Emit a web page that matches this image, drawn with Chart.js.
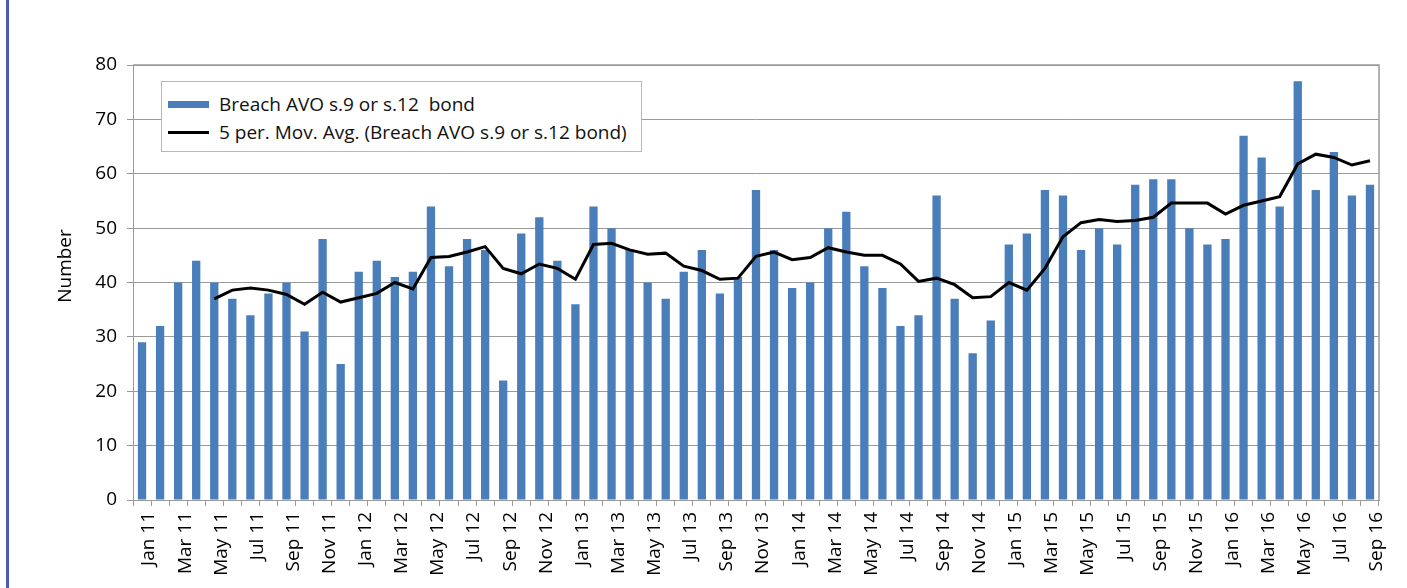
<!DOCTYPE html>
<html>
<head>
<meta charset="utf-8">
<script src="https://cdn.jsdelivr.net/npm/chart.js@4.4.1/dist/chart.umd.min.js"></script>
<style>
  html, body { margin: 0; padding: 0; background: #fff; }
  #wrap { position: relative; width: 1407px; height: 588px; overflow: hidden; }
  #frame { position: absolute; left: 6px; top: 0; width: 3px; height: 588px; background: #4a5cb4; }
  canvas { position: absolute; left: 0; top: 0; }
  #legend { position: absolute; left: 161px; top: 81px; width: 479px; height: 69px; border: 1px solid #b8b8b8; background: #fff;
            font-family: "Open Sans", sans-serif; font-size: 19px; color: #111; }
  .item { position: absolute; left: 6px; height: 26px; display: flex; align-items: center; white-space: pre; }
  .sw { width: 41px; margin-right: 10px; }
</style>
</head>
<body>
<div id="wrap">
  <canvas id="c" width="1407" height="588"></canvas>
  <div id="frame"></div>
  <div id="legend"></div>
</div>
<script>
const months = ["Jan","Feb","Mar","Apr","May","Jun","Jul","Aug","Sep","Oct","Nov","Dec"];
const categories = [];
for (let y = 11; y <= 16; y++) {
  for (let m = 0; m < 12; m++) {
    if (y === 16 && m > 8) break;
    categories.push(months[m] + " " + y);
  }
}
const barName = "Breach AVO s.9 or s.12  bond";
const lineName = "5 per. Mov. Avg. (Breach AVO s.9 or s.12 bond)";
const barValues = [
  29,32,40,44,40,37,34,38,40,31,48,25,
  42,44,41,42,54,43,48,46,22,49,52,44,
  36,54,50,46,40,37,42,46,38,41,57,46,
  39,40,50,53,43,39,32,34,56,37,27,33,
  47,49,57,56,46,50,47,58,59,59,50,47,
  48,67,63,54,77,57,64,56,58
];
const movAvgValues = [
  null,null,null,null,37.0,38.6,39.0,38.6,37.8,36.0,38.2,36.4,
  37.2,38.0,40.0,38.8,44.6,44.8,45.6,46.6,42.6,41.6,43.4,42.6,
  40.6,47.0,47.2,46.0,45.2,45.4,43.0,42.2,40.6,40.8,44.8,45.6,
  44.2,44.6,46.4,45.6,45.0,45.0,43.4,40.2,40.8,39.6,37.2,37.4,
  40.0,38.6,42.6,48.4,51.0,51.6,51.2,51.4,52.0,54.6,54.6,54.6,
  52.6,54.2,55.0,55.8,61.8,63.6,63.0,61.6,62.4
];
const yTicks = [0,10,20,30,40,50,60,70,80];
const yTitle = "Number";

const barColor = "#4a7ebb";
const gridColor = "#9a9a9a";
const fontFamily = "'Open Sans', sans-serif";

// HTML legend
const legend = document.getElementById('legend');
legend.innerHTML =
  '<div class="item" style="top:9px"><div class="sw" style="height:7px;background:' + barColor + '"></div>' + barName + '</div>' +
  '<div class="item" style="top:37px"><div class="sw" style="height:3px;background:#000"></div>' + lineName + '</div>';

const extrasPlugin = {
  id: 'extras',
  afterDatasetsDraw(chart) {
    const a = chart.chartArea, ctx = chart.ctx;
    ctx.save();
    ctx.strokeStyle = gridColor;
    ctx.lineWidth = 1.5;
    ctx.beginPath();
    ctx.moveTo(a.left, a.top);
    ctx.lineTo(a.right, a.top);
    ctx.lineTo(a.right, a.bottom);
    ctx.stroke();
    ctx.restore();
  },
  afterDraw(chart) {
    const ctx = chart.ctx;
    ctx.save();
    ctx.translate(66, 266);
    ctx.rotate(-Math.PI / 2);
    ctx.fillStyle = '#000';
    ctx.font = "19px 'Open Sans', sans-serif";
    ctx.textAlign = 'center';
    ctx.textBaseline = 'middle';
    ctx.fillText(yTitle, 0, 0);
    ctx.restore();
  }
};

new Chart(document.getElementById('c'), {
  data: {
    labels: categories,
    datasets: [
      { type: 'bar', label: barName, data: barValues, backgroundColor: barColor,
        barPercentage: 0.46, categoryPercentage: 1.0, order: 1 },
      { type: 'line', label: lineName, data: movAvgValues, borderColor: '#000', borderWidth: 3,
        pointRadius: 0, tension: 0, fill: false, spanGaps: false, order: 0 }
    ]
  },
  options: {
    responsive: false,
    animation: false,
    devicePixelRatio: 1,
    layout: { padding: { left: 50, right: 28, top: 65, bottom: 0 } },
    plugins: { legend: { display: false }, tooltip: { enabled: false } },
    scales: {
      x: {
        type: 'category',
        afterFit(s) { s.height = 88; },
        grid: { display: true, drawOnChartArea: false, offset: true, tickLength: 6, color: gridColor },
        border: { display: true, color: gridColor, width: 1 },
        ticks: {
          autoSkip: false, maxRotation: 90, minRotation: 90, padding: 6, labelOffset: 7,
          color: '#000', font: { family: fontFamily, size: 19 },
          callback: (v, i) => (i % 2 === 0 ? categories[i] : '')
        }
      },
      y: {
        min: 0, max: 80,
        afterFit(s) { s.width = 83; },
        afterBuildTicks(s) { s.ticks = yTicks.map(v => ({ value: v })); },
        grid: { color: gridColor, tickLength: 6, lineWidth: 1 },
        border: { display: true, color: gridColor, width: 1 },
        ticks: { padding: 10, color: '#000', font: { family: fontFamily, size: 19 } }
      }
    }
  },
  plugins: [extrasPlugin]
});
</script>
</body>
</html>
